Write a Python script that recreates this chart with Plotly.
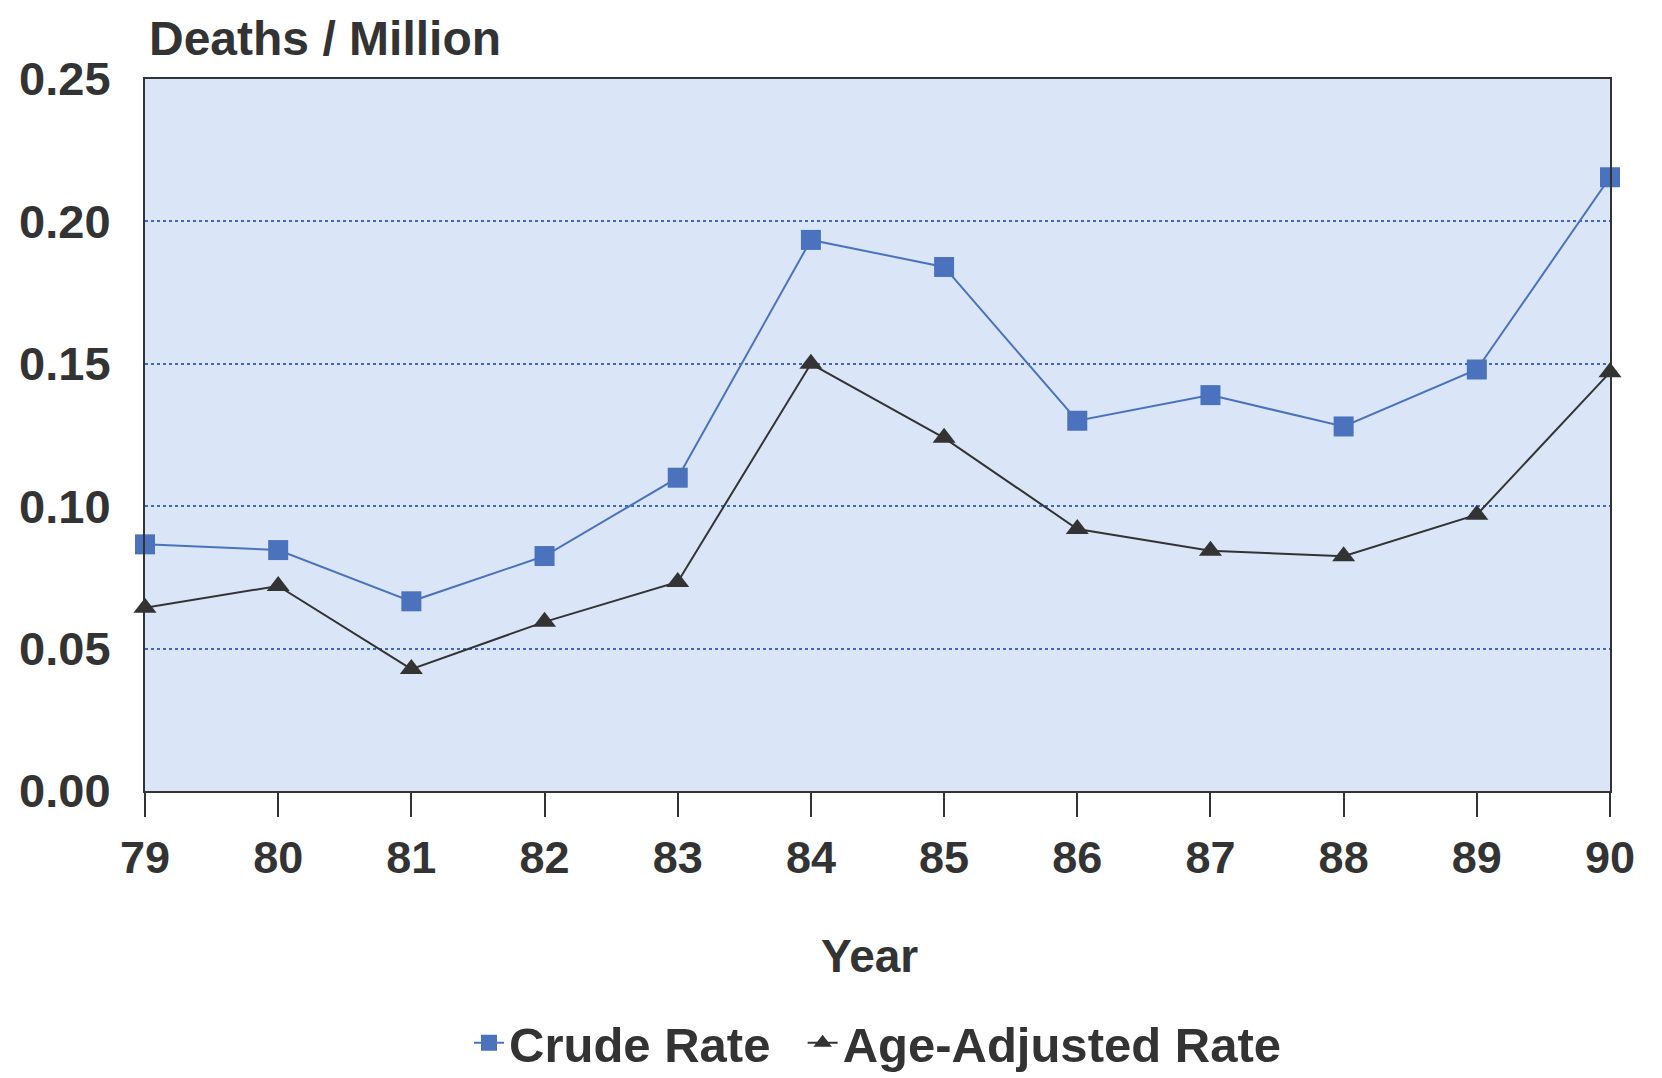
import plotly.graph_objects as go

years = [79, 80, 81, 82, 83, 84, 85, 86, 87, 88, 89, 90]
year_labels = ["79", "80", "81", "82", "83", "84", "85", "86", "87", "88", "89", "90"]
crude_rate = [0.0866, 0.0846, 0.0666, 0.0825, 0.110, 0.1935, 0.184, 0.130, 0.139, 0.128, 0.148, 0.2155]
age_adjusted_rate = [0.0643, 0.072, 0.0428, 0.0594, 0.0734, 0.150, 0.124, 0.092, 0.0844, 0.0824, 0.097, 0.147]
y_ticks = [0.0, 0.05, 0.10, 0.15, 0.20, 0.25]

FONT = "Liberation Sans, Arial, sans-serif"
TEXT = "#333333"
W, H = 1662, 1078
L, R, T, B = 137, 60, 71, 295
NBSP = "\u00a0"

fig = go.Figure()
fig.add_trace(go.Scatter(
    x=years, y=crude_rate, name="Crude Rate" + NBSP * 2, mode="lines+markers",
    line=dict(color="#4a72bd", width=2),
    marker=dict(symbol="square", size=20, color="#4a72bd"),
    cliponaxis=False,
))
fig.add_trace(go.Scatter(
    x=years, y=age_adjusted_rate, name="Age-Adjusted Rate", mode="lines+markers",
    line=dict(color="#333333", width=2),
    marker=dict(symbol="triangle-up", size=20, color="#333333"),
    cliponaxis=False,
))

fig.update_layout(
    width=W, height=H,
    margin=dict(l=L, r=R, t=T, b=B),
    paper_bgcolor="white",
    plot_bgcolor="#dae6f7",
    font=dict(family=FONT, color=TEXT, size=46),
    showlegend=True,
    legend=dict(
        orientation="h", xanchor="center", x=0.5, yref="container", y=0.040,
        yanchor="middle", font=dict(size=49, family=FONT, color=TEXT, weight="bold"),
        itemwidth=30, bgcolor="rgba(0,0,0,0)",
    ),
    xaxis=dict(
        range=[79, 90], tickvals=years, ticktext=year_labels,
        showgrid=False, zeroline=False,
        showline=True, mirror=True, linecolor="#333333", linewidth=2,
        ticks="outside", ticklen=24, tickwidth=2, tickcolor="#333333",
        tickfont=dict(size=45, family=FONT, color=TEXT, weight="bold"),
        ticklabelstandoff=2,
    ),
    yaxis=dict(
        range=[0, 0.25], tickvals=y_ticks, tickformat=".2f",
        showgrid=True, gridcolor="#3f66c0", griddash="dot", gridwidth=2,
        zeroline=False,
        showline=True, mirror=True, linecolor="#333333", linewidth=2,
        ticks="", ticklabelstandoff=23,
        tickfont=dict(size=47, family=FONT, color=TEXT, weight="bold"),
    ),
    annotations=[
        dict(text="Deaths / Million", xref="paper", yref="paper", x=0.0, y=1.0,
             xanchor="left", yanchor="bottom", xshift=2, yshift=12, showarrow=False,
             font=dict(size=48, family=FONT, color=TEXT, weight="bold")),
        dict(text="Year", xref="paper", yref="paper", x=0.5, y=0.0,
             xanchor="center", yanchor="middle", xshift=-8, yshift=-165, showarrow=False,
             font=dict(size=46, family=FONT, color=TEXT, weight="bold")),
    ],
)

fig.write_html("out.html")
